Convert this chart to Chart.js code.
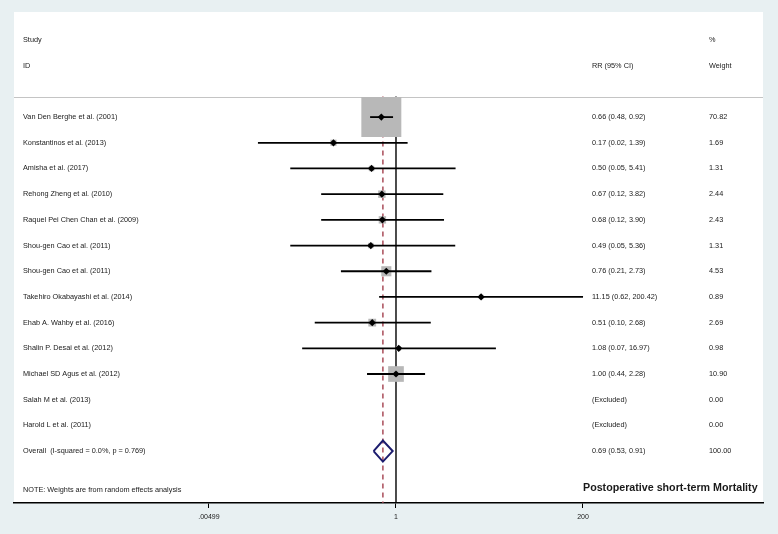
<!DOCTYPE html>
<html>
<head>
<meta charset="utf-8">
<script src="https://cdn.jsdelivr.net/npm/chart.js@4.4.1/dist/chart.umd.min.js"></script>
<style>
  html, body { margin: 0; padding: 0; background: #e8f0f2; }
</style>
</head>
<body>
<canvas id="forest" width="778" height="534"></canvas>
<script>
// --- Data ---
const studies = [
  'Van Den Berghe et al. (2001)',
  'Konstantinos et al. (2013)',
  'Amisha et al. (2017)',
  'Rehong Zheng et al. (2010)',
  'Raquel Pei Chen Chan et al. (2009)',
  'Shou-gen Cao et al. (2011)',
  'Shou-gen Cao et al. (2011)',
  'Takehiro Okabayashi et al. (2014)',
  'Ehab A. Wahby et al. (2016)',
  'Shalin P. Desai et al. (2012)',
  'Michael SD Agus et al. (2012)',
  'Salah M et al. (2013)',
  'Harold L et al. (2011)'
];
const rr     = [0.66, 0.17, 0.50, 0.67, 0.68, 0.49, 0.76, 11.15, 0.51, 1.08, 1.00, null, null];
const lower  = [0.48, 0.02, 0.05, 0.12, 0.12, 0.05, 0.21, 0.62, 0.10, 0.07, 0.44, null, null];
const upper  = [0.92, 1.39, 5.41, 3.82, 3.90, 5.36, 2.73, 200.42, 2.68, 16.97, 2.28, null, null];
const weights = [70.82, 1.69, 1.31, 2.44, 2.43, 1.31, 4.53, 0.89, 2.69, 0.98, 10.90, 0.00, 0.00];

const overallLabel = 'Overall  (I-squared = 0.0%, p = 0.769)';
const overall = [0.69, 0.53, 0.91];   // estimate, lower, upper
const overallWeight = 100.00;

const tickValues = [0.00499, 1, 200];
const tickLabels = ['.00499', '1', '200'];

// --- helpers ---
const FONT = "'Liberation Sans', Arial, sans-serif";
const fmt = v => v.toFixed(2);
const overallRow = studies.length;
const boxSide = w => 4.75 * Math.sqrt(w);

const ciSets = [];
rr.forEach((v, i) => {
  if (v == null) return;
  ciSets.push({
    data: [{ x: lower[i], y: i }, { x: upper[i], y: i }],
    showLine: true, borderColor: '#000', borderWidth: 1.8,
    pointRadius: 0, order: 2
  });
});

const points = rr.map((v, i) => v == null ? null : { x: v, y: i, w: weights[i] }).filter(Boolean);

// background + separator + text columns
const decor = {
  id: 'decor',
  beforeDraw(chart) {
    const { ctx, chartArea: a } = chart;
    ctx.save();
    ctx.fillStyle = '#e8f0f2';
    ctx.fillRect(0, 0, chart.width, chart.height);
    ctx.fillStyle = '#fff';
    ctx.fillRect(a.left, a.top, a.right - a.left, a.bottom - a.top);
    const y = chart.scales.y;
    const sy = Math.round(y.getPixelForValue(-0.8)) + 0.5;
    ctx.strokeStyle = '#c4c4c4';
    ctx.lineWidth = 1;
    ctx.beginPath();
    ctx.moveTo(a.left, sy);
    ctx.lineTo(a.right, sy);
    ctx.stroke();
    ctx.restore();
  },
  afterDraw(chart) {
    const { ctx } = chart;
    const y = chart.scales.y;
    const colStudy = 23, colCI = 592, colW = 709;
    ctx.save();
    ctx.fillStyle = '#1a1a1a';
    ctx.textBaseline = 'middle';
    ctx.textAlign = 'left';
    ctx.font = '7.3px ' + FONT;
    const py = r => y.getPixelForValue(r);
    ctx.fillText('Study', colStudy, py(-3));
    ctx.fillText('ID', colStudy, py(-2));
    ctx.fillText('%', colW, py(-3));
    ctx.fillText('RR (95% CI)', colCI, py(-2));
    ctx.fillText('Weight', colW, py(-2));
    studies.forEach((s, i) => {
      ctx.fillText(s, colStudy, py(i));
      const ci = rr[i] == null ? '(Excluded)' : `${fmt(rr[i])} (${fmt(lower[i])}, ${fmt(upper[i])})`;
      ctx.fillText(ci, colCI, py(i));
      ctx.fillText(fmt(weights[i]), colW, py(i));
    });
    ctx.fillText(overallLabel, colStudy, py(overallRow));
    ctx.fillText(`${fmt(overall[0])} (${fmt(overall[1])}, ${fmt(overall[2])})`, colCI, py(overallRow));
    ctx.fillText(fmt(overallWeight), colW, py(overallRow));
    ctx.fillText('NOTE: Weights are from random effects analysis', colStudy, py(14.5));
    ctx.font = 'bold 10.7px ' + FONT;
    ctx.fillText('Postoperative short-term Mortality', 583, py(14.45));
    ctx.restore();
  }
};

new Chart(document.getElementById('forest'), {
  type: 'scatter',
  data: {
    datasets: [
      // overall diamond
      {
        data: [
          { x: overall[1], y: overallRow },
          { x: overall[0], y: overallRow - 0.41 },
          { x: overall[2], y: overallRow },
          { x: overall[0], y: overallRow + 0.41 },
          { x: overall[1], y: overallRow }
        ],
        showLine: true, borderColor: '#1c1c6e', borderWidth: 2,
        pointRadius: 0, order: 0
      },
      // point estimates
      {
        data: points, pointStyle: 'rectRot', pointRadius: 3.6,
        pointBackgroundColor: '#000', pointBorderWidth: 0, order: 1
      },
      ...ciSets,
      // weight boxes
      {
        data: points, pointStyle: 'rect',
        pointRadius: c => boxSide(c.raw.w) / Math.SQRT2,
        pointBackgroundColor: '#b8b8b8', pointBorderWidth: 0, order: 3
      },
      // overall effect line
      {
        data: [{ x: overall[0], y: -0.8 }, { x: overall[0], y: 15.1 }],
        showLine: true, borderColor: '#a3404e', borderWidth: 1.4,
        borderDash: [5, 4], pointRadius: 0, order: 4
      },
      // line of no effect
      {
        data: [{ x: 1, y: -0.8 }, { x: 1, y: 15.1 }],
        showLine: true, borderColor: '#000', borderWidth: 1.4,
        pointRadius: 0, order: 5
      }
    ]
  },
  options: {
    responsive: false,
    animation: false,
    events: [],
    layout: { autoPadding: false, padding: { left: 14, right: 15, top: 12, bottom: 0 } },
    plugins: { legend: { display: false }, tooltip: { enabled: false } },
    scales: {
      x: {
        type: 'logarithmic',
        min: 1.99e-5,
        max: 32860,
        bounds: 'data',
        afterBuildTicks: s => { s.ticks = tickValues.map(v => ({ value: v })); },
        afterFit: s => { s.height = 31; },
        grid: { drawOnChartArea: false, drawTicks: true, tickLength: 5, color: '#000', lineWidth: 1 },
        border: { color: '#000', width: 1.5 },
        ticks: {
          callback: (v, i) => tickLabels[i],
          font: { family: FONT, size: 7 },
          color: '#1a1a1a', padding: 5, maxRotation: 0, autoSkip: false
        }
      },
      y: {
        type: 'linear', display: false, reverse: true,
        min: -4.09, max: 15.02
      }
    }
  },
  plugins: [decor]
});
</script>
</body>
</html>
